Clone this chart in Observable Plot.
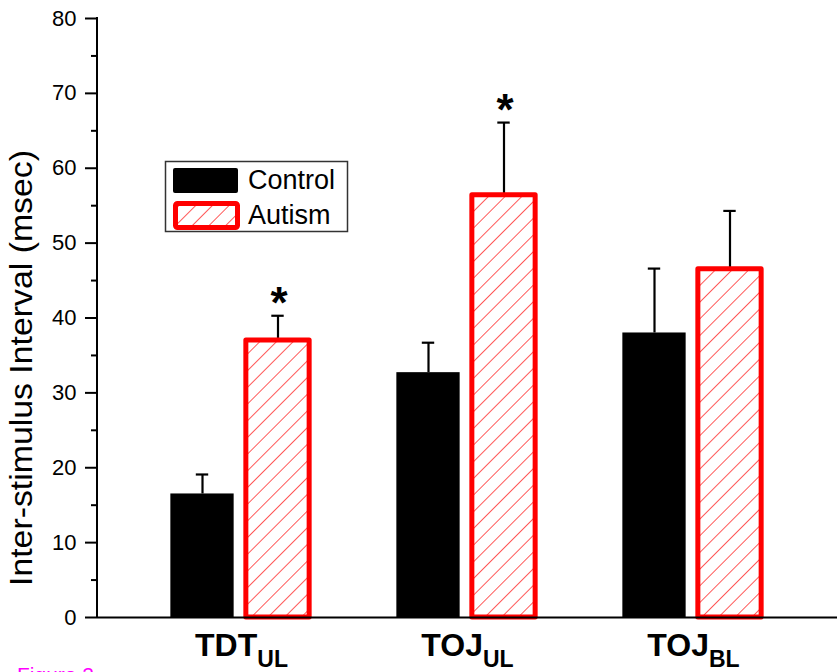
<!DOCTYPE html>
<html><head><meta charset="utf-8">
<script src="https://cdn.jsdelivr.net/npm/d3@7"></script>
<script src="https://cdn.jsdelivr.net/npm/@observablehq/plot@0.6"></script>
<style>
body{margin:0;background:#fff;}
#wrap{position:relative;width:837px;height:672px;overflow:hidden;font-family:"Liberation Sans",Arial,sans-serif;background:#fff;}
#overlay{position:absolute;left:0;top:0;pointer-events:none;}
</style></head><body>
<div id="wrap"></div>
<script>
// ---- data ----
const groups = ["TDT_UL", "TOJ_UL", "TOJ_BL"];
const labelMain = ["TDT", "TOJ", "TOJ"];
const labelSub = ["UL", "UL", "BL"];
const seriesNames = ["Control", "Autism"];
const controlMean = [16.5, 32.7, 38.0];
const controlErr = [2.6, 4.0, 8.6];
const autismMean = [37.0, 56.4, 46.5];
const autismErr = [3.3, 9.7, 7.8];
const significant = [true, true, false];
const yMajorTicks = [0, 10, 20, 30, 40, 50, 60, 70, 80];
const yMinorTicks = [5, 15, 25, 35, 45, 55, 65, 75];
const yLabel = "Inter-stimulus Interval (msec)";
const caption = "Figure 2";

const control = groups.map((g, i) => ({group: g, mean: controlMean[i], top: controlMean[i] + controlErr[i]}));
const autism = groups.map((g, i) => ({group: g, mean: autismMean[i], top: autismMean[i] + autismErr[i], sig: significant[i]}));

const RED = "#ff0000";
const ctrlOff = -39, autOff = 36.5;

const chart = Plot.plot({
  width: 837, height: 672,
  marginLeft: 97, marginRight: 0, marginTop: 18, marginBottom: 55,
  style: {fontFamily: '"Liberation Sans", Arial, sans-serif', background: "#fff", color: "#000"},
  x: {domain: groups, paddingInner: 0.3, paddingOuter: 0.283},
  y: {domain: [0, 80]},
  marks: [
    Plot.ruleX(control, {x: "group", y1: "mean", y2: "top", dx: ctrlOff, stroke: "#000", strokeWidth: 2.2}),
    Plot.tickY(control, {x: "group", y: "top", dx: ctrlOff, insetLeft: 72.8, insetRight: 72.8, stroke: "#000", strokeWidth: 2.2}),
    Plot.ruleX(autism, {x: "group", y1: "mean", y2: "top", dx: autOff, stroke: "#000", strokeWidth: 2.2}),
    Plot.tickY(autism, {x: "group", y: "top", dx: autOff, insetLeft: 72.8, insetRight: 72.8, stroke: "#000", strokeWidth: 2.2}),
    Plot.barY(control, {x: "group", y: "mean", fill: "#000", insetLeft: 8.35, insetRight: 86.35}),
    Plot.barY(autism, {x: "group", y: "mean", fill: "url(#hatch)", stroke: RED, strokeWidth: 5, strokeLinejoin: "round", insetLeft: 83.85, insetRight: 10.85}),
    Plot.text(autism.filter(d => d.sig), {x: "group", y: "top", dx: autOff + 1, dy: 2, text: () => "*", fontSize: 44, fontWeight: "bold", lineAnchor: "bottom", fill: "#000"}),
    Plot.axisY({ticks: yMajorTicks, tickSize: 12, tickPadding: 9, fontSize: 22, strokeWidth: 2, label: null}),
    Plot.axisY({ticks: yMinorTicks, tickSize: 6, tickFormat: () => "", strokeWidth: 2, label: null}),
    Plot.axisX({tickSize: 0, tickPadding: 16, fontSize: 32, fontWeight: "bold", tickFormat: d => labelMain[groups.indexOf(d)], label: null}),
    Plot.ruleY([0], {stroke: "#000", strokeWidth: 2})
  ]
});

const svg = d3.select(chart);
const defs = svg.insert("defs", ":first-child");
const pat = defs.append("pattern").attr("id", "hatch").attr("patternUnits", "userSpaceOnUse")
  .attr("width", 11.8).attr("height", 11.8).attr("patternTransform", "rotate(45)");
pat.append("rect").attr("width", 11.8).attr("height", 11.8).attr("fill", "#fff");
pat.append("line").attr("x1", 0).attr("y1", -1).attr("x2", 0).attr("y2", 13).attr("stroke", RED).attr("stroke-width", 1.3);

// vertical axis line using the plot's own scales
const ys = chart.scale("y"), xs = chart.scale("x");
svg.append("line")
  .attr("x1", xs.range[0]).attr("x2", xs.range[0])
  .attr("y1", ys.apply(80) - 1).attr("y2", ys.apply(0))
  .attr("stroke", "#000").attr("stroke-width", 2);

// subscripted x labels
svg.selectAll('g[aria-label="x-axis tick label"] text').each(function(_, i) {
  const t = d3.select(this);
  t.text(null).attr("font-weight", "bold").attr("font-size", 32);
  t.append("tspan").text(labelMain[i]);
  t.append("tspan").attr("dy", 11).attr("font-size", 23).text(labelSub[i]);
});

document.getElementById("wrap").appendChild(chart);

// overlay: y label, legend, caption
const ov = d3.select("#wrap").append("svg").attr("id", "overlay").attr("width", 837).attr("height", 672)
  .attr("font-family", '"Liberation Sans", Arial, sans-serif');
const od = ov.append("defs");
const p2 = od.append("pattern").attr("id", "hatch2").attr("patternUnits", "userSpaceOnUse")
  .attr("width", 11.8).attr("height", 11.8).attr("patternTransform", "rotate(45)");
p2.append("rect").attr("width", 11.8).attr("height", 11.8).attr("fill", "#fff");
p2.append("line").attr("x1", 0).attr("y1", -1).attr("x2", 0).attr("y2", 13).attr("stroke", RED).attr("stroke-width", 1.3);

ov.append("text").attr("transform", "translate(32,368) rotate(-90)").attr("text-anchor", "middle")
  .attr("font-size", 32).attr("textLength", 436).attr("lengthAdjust", "spacingAndGlyphs")
  .attr("fill", "#000").text(yLabel);

const lg = ov.append("g");
lg.append("rect").attr("x", 165.5).attr("y", 161.5).attr("width", 182).attr("height", 70)
  .attr("fill", "#fff").attr("stroke", "#333").attr("stroke-width", 1.5);
lg.append("rect").attr("x", 173).attr("y", 168).attr("width", 65).attr("height", 25).attr("rx", 2).attr("fill", "#000");
lg.append("rect").attr("x", 175.5).attr("y", 203.5).attr("width", 62).attr("height", 24).attr("rx", 2)
  .attr("fill", "url(#hatch2)").attr("stroke", RED).attr("stroke-width", 5).attr("stroke-linejoin", "round");
lg.append("text").attr("x", 248).attr("y", 189).attr("font-size", 27).attr("fill", "#000").text(seriesNames[0]);
lg.append("text").attr("x", 248).attr("y", 224).attr("font-size", 27).attr("fill", "#000").text(seriesNames[1]);

ov.append("text").attr("x", 17).attr("y", 682).attr("font-size", 21).attr("fill", "#ff00ff").text(caption);
</script>
</body></html>
